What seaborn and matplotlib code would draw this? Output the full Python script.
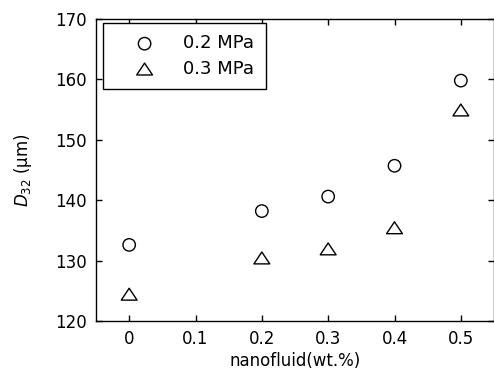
import matplotlib
matplotlib.use("Agg")
import matplotlib.pyplot as plt
import seaborn as sns
import pandas as pd
from matplotlib.path import Path

# Sauter mean diameter vs. nanofluid concentration at two injection pressures
concentration = [0.0, 0.2, 0.3, 0.4, 0.5]
d32_02mpa = [132.6, 138.2, 140.6, 145.7, 159.8]
d32_03mpa = [124.4, 130.4, 131.9, 135.4, 154.9]
series_labels = ["0.2 MPa", "0.3 MPa"]
x_ticks = [0, 0.1, 0.2, 0.3, 0.4, 0.5]
y_ticks = [120, 130, 140, 150, 160, 170]

df = pd.DataFrame({
    "conc": concentration * 2,
    "d32": d32_02mpa + d32_03mpa,
    "pressure": [series_labels[0]] * len(concentration) + [series_labels[1]] * len(concentration),
})

sns.set_theme(style="white")
plt.rcParams["font.family"] = ["DejaVu Sans"]
plt.rcParams["font.size"] = 12
plt.rcParams["text.color"] = "black"

fig = plt.figure(figsize=(4.94, 3.78), dpi=100)
ax = fig.add_axes([96 / 494, 1 - 321 / 378, 398 / 494, 302 / 378])

# wide, flat open triangle
tri = Path([(-1.0, -0.72), (1.0, -0.72), (0.0, 0.78), (-1.0, -0.72)],
           [Path.MOVETO, Path.LINETO, Path.LINETO, Path.CLOSEPOLY])

sns.scatterplot(data=df[df.pressure == series_labels[0]], x="conc", y="d32",
                marker="o", s=80, facecolors="none", edgecolor="black",
                linewidth=1.0, label=series_labels[0], ax=ax, zorder=3)
sns.scatterplot(data=df[df.pressure == series_labels[1]], x="conc", y="d32",
                marker=tri, s=130, facecolors="none", edgecolor="black",
                linewidth=1.0, label=series_labels[1], ax=ax, zorder=3)

ax.set_xlim(-0.05, 0.55)
ax.set_ylim(120, 170)
ax.set_xticks(x_ticks)
ax.set_xticklabels(["0", "0.1", "0.2", "0.3", "0.4", "0.5"])
ax.set_yticks(y_ticks)

for side in ["left", "right", "top", "bottom"]:
    ax.spines[side].set_visible(True)
    ax.spines[side].set_color("black")
    ax.spines[side].set_linewidth(1.0)

ax.tick_params(direction="in", length=4, width=1, color="black",
               top=True, right=True, bottom=True, left=True,
               labelsize=12, labelcolor="black", pad=6.5)

ax.set_xlabel("nanofluid(wt.%)", fontsize=12, color="black", labelpad=3)
ax.set_ylabel(r"$\it{D}_{32}$ (μm)", fontsize=12, color="black")
ax.yaxis.set_label_coords(-0.157, 0.5)

leg = ax.legend(loc="upper left", bbox_to_anchor=(0.0168, 0.986),
                borderaxespad=0, frameon=True, fancybox=False,
                edgecolor="black", framealpha=1, fontsize=13,
                labelcolor="black",
                borderpad=0.62, handlelength=3.4, handletextpad=0.45,
                labelspacing=0.42)
leg.get_frame().set_linewidth(1.0)

fig.savefig("out.png", dpi=100)
